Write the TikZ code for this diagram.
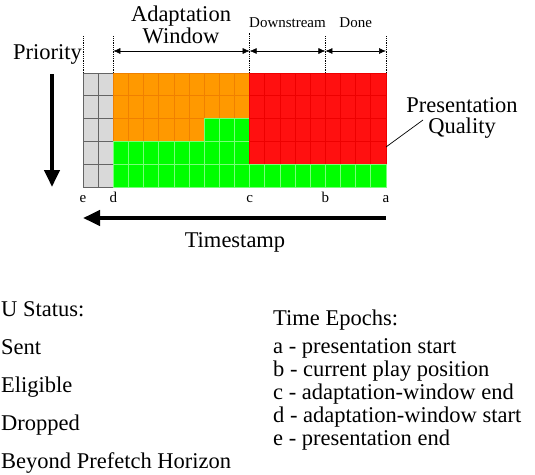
\documentclass[tikz,border=0pt]{standalone}
\usepackage{fontspec}
\setmainfont{Liberation Serif}
\usetikzlibrary{arrows.meta, positioning}

\definecolor{sentgreen}{RGB}{0,255,0}
\definecolor{sentedge}{RGB}{120,255,120}
\definecolor{eligorange}{RGB}{255,153,0}
\definecolor{eligedge}{RGB}{240,128,0}
\definecolor{dropred}{RGB}{255,16,16}
\definecolor{dropedge}{RGB}{238,0,0}
\definecolor{beyondgray}{RGB}{217,217,217}
\definecolor{beyondedge}{RGB}{100,100,100}

\tikzstyle{every cell} = [line width=0.8pt]
\tikzstyle{cell} = [draw, every cell]
\tikzstyle{sent} = [cell, fill=sentgreen, draw=sentedge]
\tikzstyle{eligible} = [cell, fill=eligorange, draw=eligedge]
\tikzstyle{dropped} = [cell, fill=dropred, draw=dropedge]
\tikzstyle{beyond} = [cell, fill=beyondgray, draw=beyondedge]
\tikzstyle{epoch} = [densely dotted, line width=0.8pt]
\tikzstyle{span} = [{Latex[length=7pt,width=6pt]}-{Latex[length=7pt,width=6pt]}, line width=0.6pt]
\tikzstyle{axis} = [-{Triangle[length=17pt,width=15pt]}, line width=4pt]
\tikzstyle{big} = [font=\fontsize{22.5}{24}\selectfont, inner sep=0pt]
\tikzstyle{small} = [font=\fontsize{15}{17}\selectfont, inner sep=0pt]

% block of cells: style, first col, last col, first row, last row
\newcommand{\cellblock}[5]{%
  \foreach \c in {#2,...,#3}
    \foreach \r in {#4,...,#5}
      \draw[#1] (\c,\r) rectangle ++(1,1);
}

\begin{document}
\begin{tikzpicture}[x=1pt, y=-1pt]
  \useasboundingbox (0,0) rectangle (535,474);

  %Cells
  \begin{scope}[shift={(83,73)}, x=15.15pt, y=-22.8pt]
    \cellblock{beyond}{0}{1}{0}{4}
    \cellblock{eligible}{2}{10}{0}{1}
    \cellblock{eligible}{2}{7}{2}{2}
    \cellblock{sent}{8}{10}{2}{2}
    \cellblock{sent}{2}{10}{3}{4}
    \cellblock{dropped}{11}{19}{0}{3}
    \cellblock{sent}{11}{19}{4}{4}
  \end{scope}

  %Epochs
  \coordinate (e) at (83,73);
  \coordinate (d) at (113.3,73);
  \coordinate (c) at (249.65,73);
  \coordinate (b) at (325.4,73);
  \coordinate (a) at (386,73);
  \coordinate (spanrow) at (0,51);
  \coordinate (axisrow) at (0,218);

  \draw[epoch] (e) -- ++(0,-37);
  \draw[epoch] (d) -- ++(0,-37);
  \draw[epoch] (c) -- ++(0,-40);
  \draw[epoch] (b) -- ++(0,-37);
  \draw[epoch] (a) -- ++(0,-37);

  \draw[span] (d |- spanrow) -- (c |- spanrow);
  \draw[span] (c |- spanrow) -- (b |- spanrow);
  \draw[span] (b |- spanrow) -- (a |- spanrow);

  \node[big,anchor=base] (adapt) at (181,21) {Adaptation};
  \node[big,anchor=base] (window) at (181,43) {Window};
  \node[small,anchor=base] (down) at (287.5,27) {Downstream};
  \node[small,anchor=base] (done) at (355.7,27) {Done};

  \foreach \p in {e,d,c,b,a}
    \node[small,anchor=base] (lab\p) at ([yshift=-129pt]\p) {\p};

  %Axes
  \node[big,anchor=base east] (prio) at (82,59) {Priority};
  \coordinate (ptop) at (52,74);
  \coordinate (pbot) at (52,187);
  \draw[axis] (ptop) -- (pbot);

  \draw[axis] (a |- axisrow) -- (e |- axisrow);
  \node[big,anchor=base] (stamp) at (235,247) {Timestamp};

  \node[big,anchor=base] (pres) at (462,112) {Presentation};
  \node[big,anchor=base] (qual) at (462,133) {Quality};
  \coordinate (qualfoot) at (386,147);
  \draw[line width=0.7pt] (qualfoot) -- (423,120);

  %Legends
  \node[big,anchor=base west] (status) at (1,316) {U Status:};
  \node[big,anchor=base west] (sent) at (1,354) {Sent};
  \node[big,anchor=base west] (elig) at (1,392) {Eligible};
  \node[big,anchor=base west] (drop) at (1,430) {Dropped};
  \node[big,anchor=base west] (beyond) at (1,468) {Beyond Prefetch Horizon};

  \node[big,anchor=base west] (epochs) at (273,325) {Time Epochs:};
  \node[big,anchor=base west] (ea) at (273,353) {a - presentation start};
  \node[big,anchor=base west] (eb) at (273,376) {b - current play position};
  \node[big,anchor=base west] (ec) at (273,399) {c - adaptation-window end};
  \node[big,anchor=base west] (ed) at (273,422) {d - adaptation-window start};
  \node[big,anchor=base west] (ee) at (273,445) {e - presentation end};
\end{tikzpicture}
\end{document}
